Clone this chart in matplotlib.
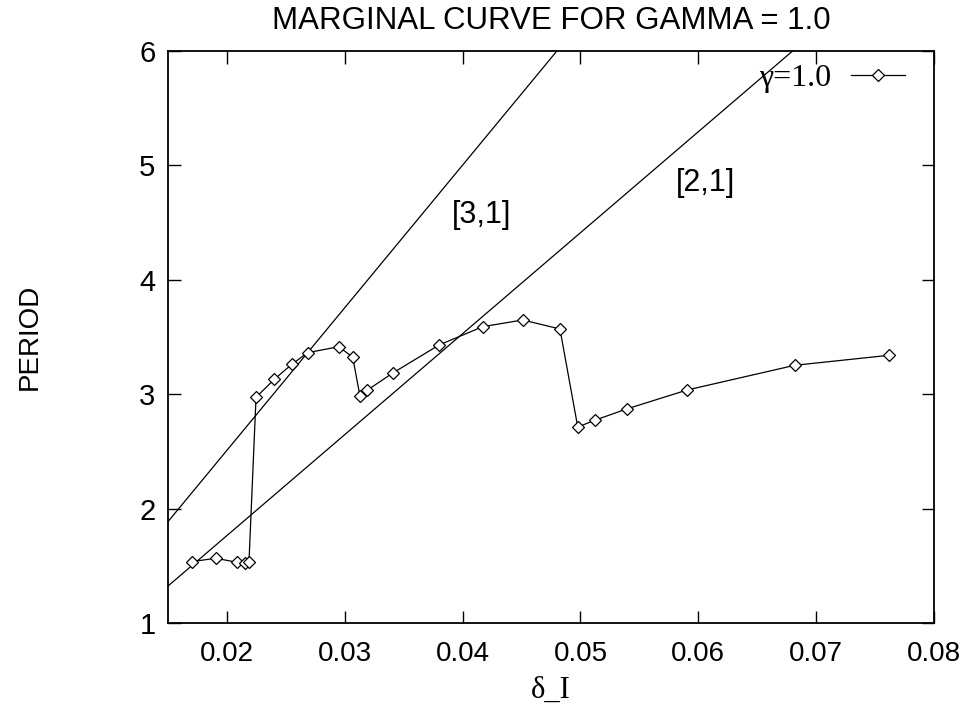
import numpy as np
import matplotlib
matplotlib.use("Agg")
import matplotlib.pyplot as plt

# marginal curve, gamma = 1.0
delta_i = [0.01701, 0.01905, 0.02083, 0.02153, 0.02187, 0.02247, 0.02402, 0.02550,
           0.02685, 0.02948, 0.03067, 0.03129, 0.03189, 0.03412, 0.03800, 0.04170,
           0.04510, 0.04826, 0.04977, 0.05121, 0.05392, 0.05906, 0.06820, 0.07618]
period = [1.536, 1.566, 1.531, 1.527, 1.531, 2.973, 3.130, 3.261,
          3.363, 3.415, 3.325, 2.984, 3.034, 3.188, 3.430, 3.590,
          3.649, 3.570, 2.713, 2.772, 2.871, 3.037, 3.253, 3.340]

# resonance lines [3,1] and [2,1]
line31_x = [0.015, 0.0480]
line31_y = [1.886, 6.0]
line21_x = [0.015, 0.0680]
line21_y = [1.323, 6.0]

xticks = [0.02, 0.03, 0.04, 0.05, 0.06, 0.07, 0.08]
yticks = [1, 2, 3, 4, 5, 6]

sans = ["Liberation Sans", "DejaVu Sans"]
serif = ["Liberation Serif", "DejaVu Serif"]

fig = plt.figure(figsize=(9.7, 7.04), dpi=100)
ax = fig.add_axes([168/970, 1-623/704, (934-168)/970, (623-51)/704])

ax.plot(line31_x, line31_y, color="black", lw=0.9)
ax.plot(line21_x, line21_y, color="black", lw=0.9)
curve, = ax.plot(delta_i, period, color="black", lw=0.9, marker="D", ms=6.5,
                 mfc="white", mec="black", mew=0.9)

ax.text(0.04164, 4.566, "[3,1]", ha="center", va="center", fontsize=22, family=sans)
ax.text(0.06057, 4.846, "[2,1]", ha="center", va="center", fontsize=22, family=sans)

ax.set_xlim(0.015, 0.08)
ax.set_ylim(1, 6)
ax.set_xticks(xticks)
ax.set_yticks(yticks)
ax.set_xticklabels([f"{t:.2f}" for t in xticks], family=sans, fontsize=20)
ax.set_yticklabels([str(t) for t in yticks], family=sans, fontsize=21)
ax.tick_params(direction="in", length=9, width=1, top=True, right=True)
ax.tick_params(axis="x", pad=13)
ax.tick_params(axis="y", pad=9)
for s in ax.spines.values():
    s.set_linewidth(1.3)

ax.set_title("MARGINAL CURVE FOR GAMMA = 1.0", family=sans, fontsize=22.5, pad=16)
ax.set_xlabel("δ_I", family=serif, fontsize=22, labelpad=6)
fig.text(30/970, 1-337/704, "PERIOD", rotation=90, ha="center", va="center",
         family=sans, fontsize=20)

leg = ax.legend([curve], ["γ=1.0"], loc="upper right", markerfirst=False, frameon=False,
                prop={"family": serif, "size": 23}, handlelength=1.7, numpoints=1,
                borderaxespad=0.0, handletextpad=0.6, bbox_to_anchor=(0.979, 1.0))

fig.savefig("out.png", dpi=100)
